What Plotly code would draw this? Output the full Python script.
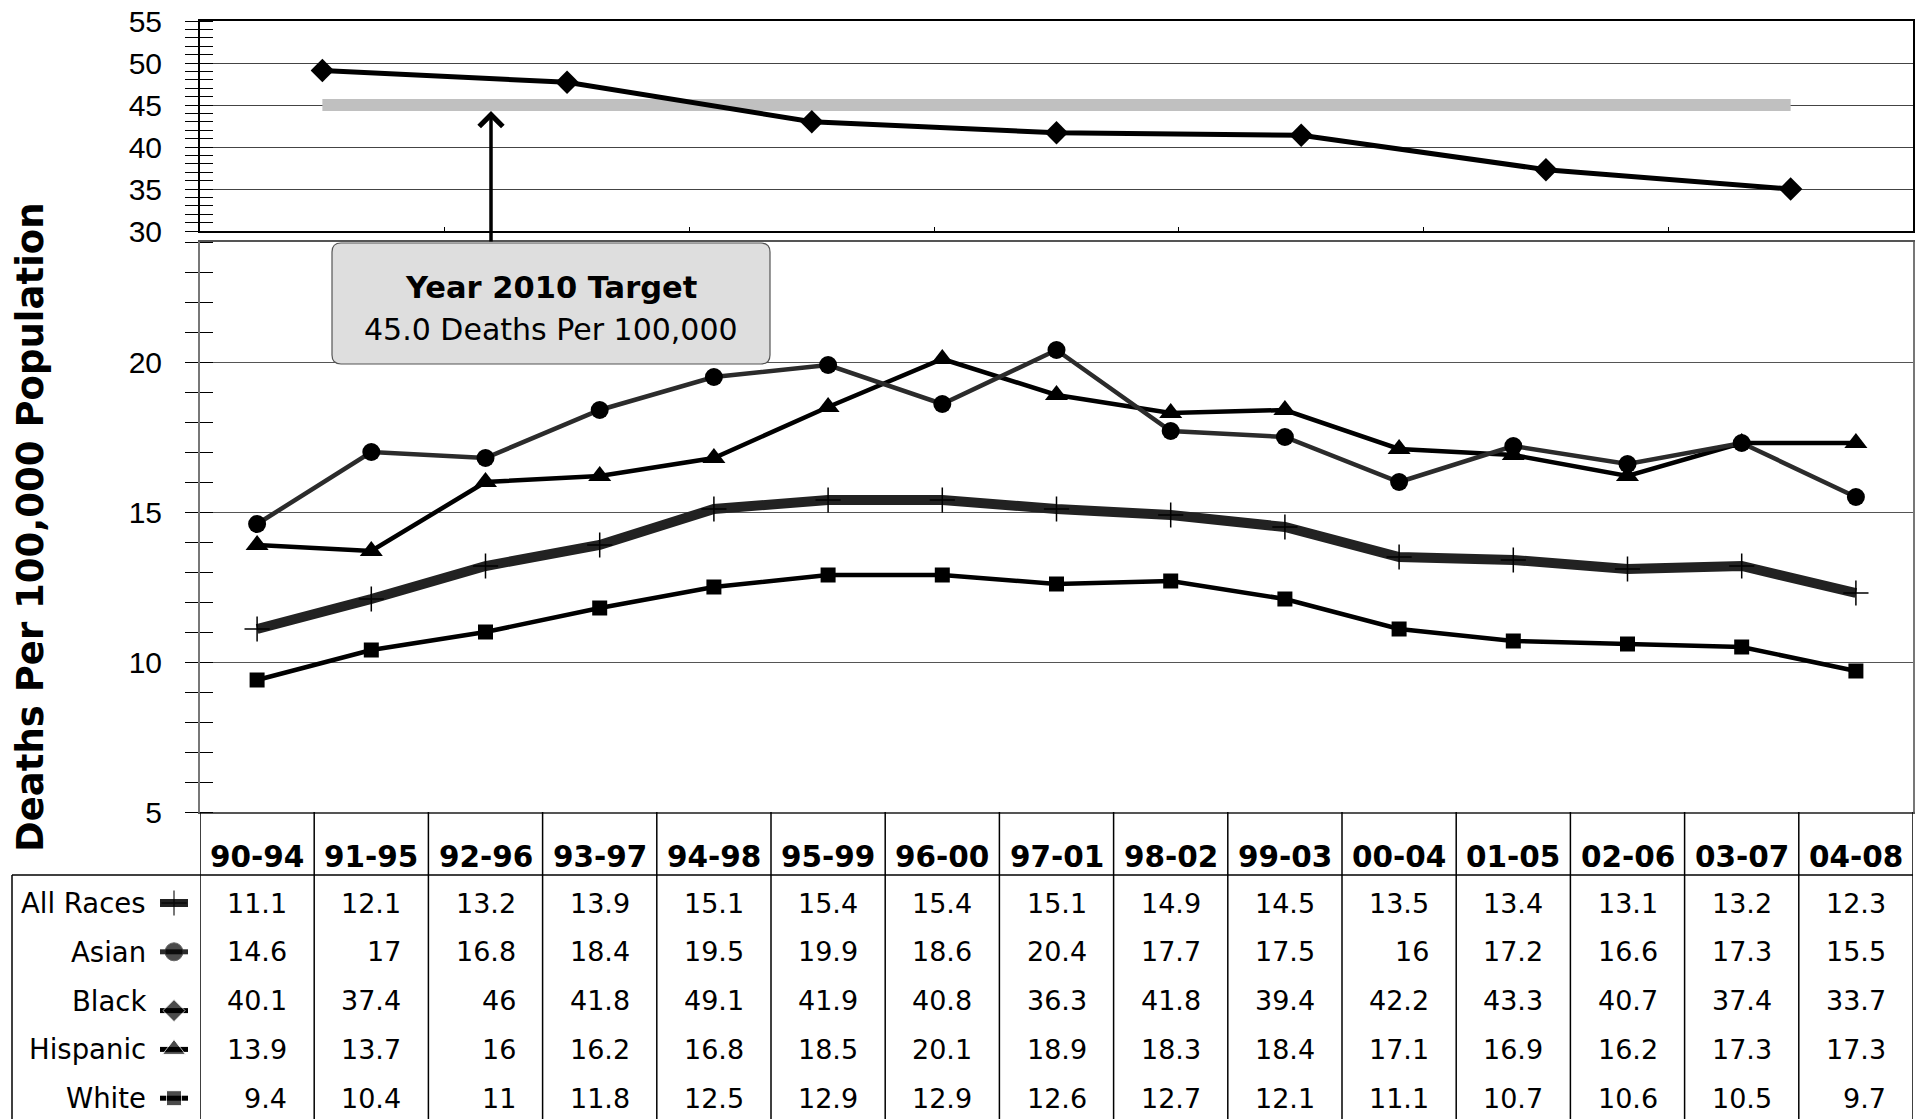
import plotly.graph_objects as go

# ---------------- data ----------------
periods = ["90-94", "91-95", "92-96", "93-97", "94-98", "95-99", "96-00", "97-01",
           "98-02", "99-03", "00-04", "01-05", "02-06", "03-07", "04-08"]
all_races = [11.1, 12.1, 13.2, 13.9, 15.1, 15.4, 15.4, 15.1, 14.9, 14.5, 13.5, 13.4, 13.1, 13.2, 12.3]
asian = [14.6, 17, 16.8, 18.4, 19.5, 19.9, 18.6, 20.4, 17.7, 17.5, 16, 17.2, 16.6, 17.3, 15.5]
black = [40.1, 37.4, 46, 41.8, 49.1, 41.9, 40.8, 36.3, 41.8, 39.4, 42.2, 43.3, 40.7, 37.4, 33.7]
hispanic = [13.9, 13.7, 16, 16.2, 16.8, 18.5, 20.1, 18.9, 18.3, 18.4, 17.1, 16.9, 16.2, 17.3, 17.3]
white = [9.4, 10.4, 11, 11.8, 12.5, 12.9, 12.9, 12.6, 12.7, 12.1, 11.1, 10.7, 10.6, 10.5, 9.7]
row_names = ["All Races", "Asian", "Black", "Hispanic", "White"]
row_values = [all_races, asian, black, hispanic, white]

# Black series as drawn in the upper panel (7 points)
black_panel = [49.1, 47.7, 43.0, 41.7, 41.4, 37.3, 35.0]
target_rate = 45.0
target_title = "Year 2010 Target"
target_text = "45.0 Deaths Per 100,000"
y_title = "Deaths Per 100,000 Population"
top_ticks = [30, 35, 40, 45, 50, 55]
bottom_ticks = [5, 10, 15, 20]

# ---------------- layout helpers ----------------
W, H = 1927, 1119


def fx(p):
    return p / W


def fy(p):
    return 1 - p / H


PLOT_L, PLOT_R = 200, 1913
TOP_T, TOP_B = 21, 231
BOT_T, BOT_B = 242, 812
HEAD_LINE = 875
ROW0, ROW_H = 903, 48.8
TAB_L = 12
KEY_X, KEY_HALF = 174, 14

FONT = "DejaVu Sans, Verdana, sans-serif"
TICKFONT = "Liberation Sans, Arial, sans-serif"

n = len(periods)
xs = list(range(n))
top_x = list(range(len(black_panel)))

fig = go.Figure()

# upper panel: target line + black series
fig.add_trace(go.Scatter(x=[top_x[0], top_x[-1]], y=[target_rate, target_rate], xaxis="x2", yaxis="y2",
                         mode="lines", line=dict(color="#c0c0c0", width=12), hoverinfo="skip"))
fig.add_trace(go.Scatter(x=top_x, y=black_panel, xaxis="x2", yaxis="y2", mode="lines+markers",
                         line=dict(color="black", width=5),
                         marker=dict(symbol="diamond", size=18, color="black")))

# lower panel series
styles = {
    "All Races": (dict(color="#222222", width=10),
                  dict(symbol="cross-thin", size=18, color="black", line=dict(color="black", width=1.5))),
    "Asian": (dict(color="#2b2b2b", width=4.5), dict(symbol="circle", size=18, color="black")),
    "Black": (dict(color="black", width=3), dict(symbol="diamond", size=17, color="black")),
    "Hispanic": (dict(color="black", width=4.5), dict(symbol="triangle-up", size=20, color="black")),
    "White": (dict(color="black", width=4.5), dict(symbol="square", size=15, color="black")),
}
for name, vals in [("White", white), ("All Races", all_races), ("Hispanic", hispanic), ("Asian", asian)]:
    ln, mk = styles[name]
    fig.add_trace(go.Scatter(x=xs, y=vals, xaxis="x", yaxis="y", mode="lines+markers", name=name,
                             line=ln, marker=mk))

# dummy traces so overlay tick axes are drawn
fig.add_trace(go.Scatter(x=[0], y=[None], xaxis="x", yaxis="y3", mode="markers", hoverinfo="skip"))
fig.add_trace(go.Scatter(x=[0], y=[None], xaxis="x2", yaxis="y4", mode="markers", hoverinfo="skip"))

# legend keys in table
for r, name in enumerate(row_names):
    ln, mk = styles[name]
    yk = ROW0 + r * ROW_H + (10 if name == "Black" else 0)
    key_ln = dict(ln)
    key_ln["width"] = 8 if name == "All Races" else 5
    key_mk = dict(mk)
    key_mk["size"] = [0, mk["size"], 0]
    fig.add_trace(go.Scatter(x=[KEY_X - KEY_HALF, KEY_X, KEY_X + KEY_HALF], y=[yk] * 3,
                             xaxis="x3", yaxis="y5", mode="lines+markers",
                             line=key_ln, marker=key_mk, hoverinfo="skip", cliponaxis=False))

annotations = []
shapes = []

# y title
annotations.append(dict(text=y_title, x=fx(31), y=fy(527), xref="paper", yref="paper", showarrow=False,
                        xanchor="center", yanchor="middle", textangle=-90,
                        font=dict(family="DejaVu Sans", size=37, color="black", weight="bold")))

# table headers
for i, p in enumerate(periods):
    annotations.append(dict(text="<b>%s</b>" % p, x=xs[i], y=fy(857), xref="x", yref="paper",
                            showarrow=False, xanchor="center", yanchor="middle",
                            font=dict(family=FONT, size=29.5, color="black")))
# table values
for r, vals in enumerate(row_values):
    yrow = fy(ROW0 + r * ROW_H)
    for i, v in enumerate(vals):
        annotations.append(dict(text="%g" % v, x=xs[i] + 0.5, xshift=-25, y=yrow, xref="x", yref="paper",
                                showarrow=False, xanchor="right", yanchor="middle",
                                font=dict(family=FONT, size=27, color="black")))
    annotations.append(dict(text=row_names[r], x=fx(148), y=yrow, xref="paper", yref="paper",
                            showarrow=False, xanchor="right", yanchor="middle",
                            font=dict(family=FONT, size=27.5, color="black")))

# table lines
for i in range(n + 1):
    shapes.append(dict(type="line", xref="x", yref="paper", x0=i - 0.5, x1=i - 0.5, y0=0, y1=fy(BOT_B),
                       line=dict(color="black", width=1.5)))
shapes.append(dict(type="line", xref="paper", yref="paper", x0=fx(TAB_L), x1=fx(PLOT_R),
                   y0=fy(HEAD_LINE), y1=fy(HEAD_LINE), line=dict(color="black", width=1.5)))
shapes.append(dict(type="line", xref="paper", yref="paper", x0=fx(TAB_L), x1=fx(TAB_L),
                   y0=0, y1=fy(HEAD_LINE), line=dict(color="black", width=1.5)))


# target box (rounded rectangle)
def rr_path(x0, y0, x1, y1, r):
    P = lambda a, b: "%f,%f" % (fx(a), fy(b))
    return ("M " + P(x0 + r, y0) + " L " + P(x1 - r, y0) + " Q " + P(x1, y0) + " " + P(x1, y0 + r) +
            " L " + P(x1, y1 - r) + " Q " + P(x1, y1) + " " + P(x1 - r, y1) +
            " L " + P(x0 + r, y1) + " Q " + P(x0, y1) + " " + P(x0, y1 - r) +
            " L " + P(x0, y0 + r) + " Q " + P(x0, y0) + " " + P(x0 + r, y0) + " Z")


BOX = (332, 243, 770, 364)
shapes.append(dict(type="path", xref="paper", yref="paper", path=rr_path(*BOX, 9),
                   fillcolor="#dedede", line=dict(color="#555555", width=1.2)))
box_cx = (BOX[0] + BOX[2]) / 2
annotations.append(dict(text="<b>%s</b>" % target_title, x=fx(box_cx), y=fy(288), xref="paper", yref="paper",
                        xanchor="center", yanchor="middle",
                        showarrow=False, font=dict(family=FONT, size=30.5, color="black")))
annotations.append(dict(text=target_text, x=fx(box_cx), y=fy(330), xref="paper", yref="paper",
                        xanchor="center", yanchor="middle",
                        showarrow=False, font=dict(family=FONT, size=30, color="black")))

# arrow from box to the target line
tip_px = TOP_T + (top_ticks[-1] - target_rate) / (top_ticks[-1] - top_ticks[0]) * (TOP_B - TOP_T)
annotations.append(dict(text="", x=fx(491), y=target_rate, xref="paper", yref="y2",
                        showarrow=True, ax=0, ay=BOX[1] - tip_px, axref="pixel", ayref="pixel",
                        arrowhead=4, arrowsize=1.3, arrowwidth=3.5, arrowcolor="black", standoff=6))

tickfont = dict(family=TICKFONT, size=30, color="black")
minor_out = dict(dtick=1, tick0=0, ticks="outside", ticklen=13, tickcolor="black", tickwidth=1.2, showgrid=False)
minor_in = dict(dtick=1, tick0=0, ticks="inside", ticklen=13, tickcolor="black", tickwidth=1.2, showgrid=False)

fig.update_layout(
    template="none",
    width=W, height=H, margin=dict(l=0, r=0, t=0, b=0, pad=0), autosize=False,
    paper_bgcolor="white", plot_bgcolor="white", showlegend=False,
    font=dict(family=FONT, color="black"),
    xaxis=dict(domain=[fx(PLOT_L), fx(PLOT_R)], range=[-0.5, n - 0.5], anchor="y", automargin=False,
               showticklabels=False, ticks="", showgrid=False, zeroline=False,
               showline=True, mirror=True, linecolor="#555555", linewidth=2),
    yaxis=dict(domain=[fy(BOT_B), fy(BOT_T)], range=[5, 24], anchor="x", automargin=False,
               tickvals=bottom_ticks, ticks="", tickfont=tickfont, ticklabelstandoff=30,
               showgrid=True, gridcolor="#555555", gridwidth=1, zeroline=False,
               showline=True, mirror=True, linecolor="#777777", linewidth=2, minor=minor_out),
    yaxis3=dict(overlaying="y", anchor="x", side="left", range=[5, 24], tickvals=[], ticks="",
                automargin=False,
                showticklabels=False, showgrid=False, zeroline=False, showline=False, minor=minor_in),
    xaxis2=dict(domain=[fx(PLOT_L), fx(PLOT_R)], range=[-0.5, len(black_panel) - 0.5], anchor="y2",
                automargin=False,
                showticklabels=False, tickvals=[i + 0.5 for i in top_x[:-1]], ticks="inside", ticklen=4,
                tickcolor="black", showgrid=False, zeroline=False,
                showline=True, mirror=True, linecolor="black", linewidth=2),
    yaxis2=dict(domain=[fy(TOP_B), fy(TOP_T)], range=[30, 55], anchor="x2", automargin=False,
                tickvals=top_ticks, ticks="", tickfont=tickfont, ticklabelstandoff=30,
                showgrid=True, gridcolor="#444444", gridwidth=1, zeroline=False,
                showline=True, mirror=True, linecolor="black", linewidth=2, minor=minor_out),
    yaxis4=dict(overlaying="y2", anchor="x2", side="left", range=[30, 55], tickvals=[], ticks="",
                automargin=False,
                showticklabels=False, showgrid=False, zeroline=False, showline=False, minor=minor_in),
    xaxis3=dict(domain=[0, fx(PLOT_L)], range=[0, PLOT_L], anchor="y5", visible=False, automargin=False),
    yaxis5=dict(domain=[0, fy(BOT_B)], range=[H, BOT_B], anchor="x3", visible=False, automargin=False),
    annotations=annotations, shapes=shapes,
)

fig.write_html("out.html", config={"displayModeBar": False},
               post_script="document.body.style.margin='0';document.body.style.overflow='hidden';")
